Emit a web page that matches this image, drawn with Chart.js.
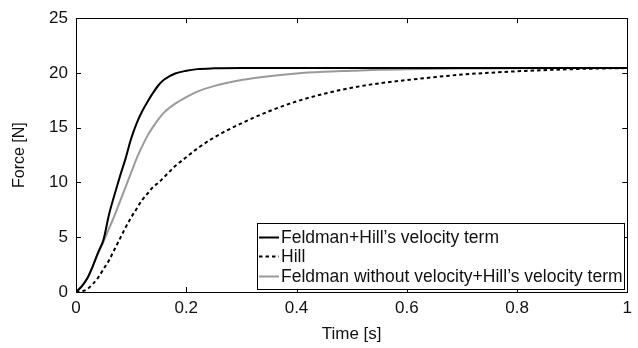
<!DOCTYPE html>
<html>
<head>
<meta charset="utf-8">
<script src="https://cdn.jsdelivr.net/npm/chart.js@4/dist/chart.umd.min.js"></script>
<style>
  html, body { margin: 0; padding: 0; background: #fff; }
  #wrap { width: 638px; height: 348px; position: relative; }
</style>
</head>
<body>
<div id="wrap"><canvas id="chart"></canvas></div>
<script>
// time samples [s]
const time = [0, 0.01, 0.02, 0.03, 0.04, 0.05, 0.06, 0.07, 0.08, 0.09, 0.1, 0.11, 0.12, 0.13, 0.14, 0.15,
  0.16, 0.18, 0.2, 0.22, 0.25, 0.3, 0.35, 0.4, 0.45, 0.5, 0.55, 0.6, 0.7, 0.8, 0.9, 1.0];

// Force [N]
const feldmanHill = [0, 0.5, 1.2, 2.3, 3.6, 4.8, 7.1, 8.9, 10.6, 12.2, 14.0, 15.4, 16.5, 17.4, 18.2, 18.9,
  19.4, 19.95, 20.2, 20.35, 20.42, 20.45, 20.45, 20.45, 20.45, 20.45, 20.45, 20.45, 20.45, 20.45, 20.45, 20.45];
const hill = [0, 0.05, 0.25, 0.7, 1.3, 2.1, 2.9, 3.9, 4.9, 5.9, 6.8, 7.6, 8.4, 9.0, 9.6, 10.0,
  10.5, 11.5, 12.3, 13.1, 14.1, 15.4, 16.5, 17.4, 18.1, 18.65, 19.05, 19.35, 19.85, 20.15, 20.35, 20.45];
const feldmanNoVel = [0, 0.5, 1.2, 2.3, 3.5, 4.6, 5.8, 7.0, 8.3, 9.6, 10.9, 12.2, 13.3, 14.3, 15.1, 15.8,
  16.4, 17.2, 17.8, 18.3, 18.8, 19.35, 19.7, 19.95, 20.1, 20.2, 20.3, 20.35, 20.4, 20.42, 20.45, 20.45];

const seriesLabels = ['Feldman+Hill\u2019s velocity term', 'Hill', 'Feldman without velocity+Hill\u2019s velocity term'];
const xTicks = [0, 0.2, 0.4, 0.6, 0.8, 1];
const yTicks = [0, 5, 10, 15, 20, 25];

const FONT = '"Liberation Sans", Arial, Helvetica, sans-serif';

function pts(ys) {
  return time.map((t, i) => ({ x: t, y: ys[i] }));
}

// frame with inner ticks on all four sides (MATLAB style)
const framePlugin = {
  id: 'frame',
  afterDatasetsDraw(chart) {
    const { ctx, chartArea: a, scales } = chart;
    const len = 5;
    ctx.save();
    ctx.strokeStyle = '#000';
    ctx.lineWidth = 1;
    ctx.beginPath();
    xTicks.forEach(v => {
      const x = Math.round(scales.x.getPixelForValue(v)) + 0.5;
      ctx.moveTo(x, a.bottom); ctx.lineTo(x, a.bottom - len);
      ctx.moveTo(x, a.top); ctx.lineTo(x, a.top + len);
    });
    yTicks.forEach(v => {
      const y = Math.round(scales.y.getPixelForValue(v)) + 0.5;
      ctx.moveTo(a.left, y); ctx.lineTo(a.left + len, y);
      ctx.moveTo(a.right, y); ctx.lineTo(a.right - len, y);
    });
    ctx.stroke();
    ctx.strokeRect(Math.round(a.left) + 0.5, Math.round(a.top) + 0.5,
      Math.round(a.right - a.left), Math.round(a.bottom - a.top));
    ctx.restore();
  }
};

// boxed legend inside the plot, bottom right
const boxLegend = {
  id: 'boxLegend',
  afterDraw(chart) {
    const { ctx, chartArea: a } = chart;
    const ds = chart.data.datasets;
    ctx.save();
    ctx.font = '17.5px ' + FONT;
    const textW = Math.max(...ds.map(d => ctx.measureText(d.label).width));
    const lineW = 20, gap = 2, padL = 2, padR = 1, rowH = 19.5, padV = 4;
    const w = Math.round(padL + lineW + gap + textW + padR);
    const h = Math.round(padV * 2 + rowH * ds.length - 1);
    const right = a.right - 3, bottom = a.bottom - 3;
    const left = Math.round(right - w), top = Math.round(bottom - h);
    ctx.fillStyle = '#fff';
    ctx.fillRect(left, top, w, h);
    ctx.strokeStyle = '#000';
    ctx.lineWidth = 1;
    ctx.strokeRect(left + 0.5, top + 0.5, w, h);
    ds.forEach((d, i) => {
      const cy = Math.round(top + padV + rowH * i + rowH / 2) + 0.5;
      ctx.beginPath();
      ctx.setLineDash(d.borderDash || []);
      ctx.strokeStyle = d.borderColor;
      ctx.lineWidth = d.borderWidth;
      ctx.moveTo(left + padL, cy);
      ctx.lineTo(left + padL + lineW, cy);
      ctx.stroke();
      ctx.setLineDash([]);
      ctx.fillStyle = '#111';
      ctx.textBaseline = 'middle';
      ctx.fillText(d.label, left + padL + lineW + gap, cy + 1);
    });
    ctx.restore();
  }
};

new Chart(document.getElementById('chart'), {
  type: 'line',
  data: {
    datasets: [
      { label: seriesLabels[0], data: pts(feldmanHill), borderColor: '#000', borderWidth: 2 },
      { label: seriesLabels[1], data: pts(hill), borderColor: '#000', borderWidth: 2, borderDash: [3.5, 3] },
      { label: seriesLabels[2], data: pts(feldmanNoVel), borderColor: '#9a9a9a', borderWidth: 2 }
    ]
  },
  options: {
    responsive: true,
    maintainAspectRatio: false,
    animation: false,
    layout: { padding: { left: 0, top: 16, right: 9, bottom: 0 } },
    elements: {
      point: { radius: 0 },
      line: { cubicInterpolationMode: 'monotone', fill: false }
    },
    plugins: {
      legend: { display: false },
      tooltip: { enabled: false }
    },
    scales: {
      x: {
        type: 'linear',
        min: 0, max: 1,
        afterBuildTicks: s => { s.ticks = xTicks.map(v => ({ value: v })); },
        afterFit: s => { s.height = 56; },
        grid: { display: false, drawTicks: false },
        border: { display: false },
        ticks: {
          color: '#111', font: { family: FONT, size: 17 }, padding: 6, maxRotation: 0,
          callback: v => String(parseFloat(v.toFixed(2)))
        },
        title: { display: true, text: 'Time [s]', color: '#111', font: { family: FONT, size: 17 }, padding: { top: 0, bottom: 3 } }
      },
      y: {
        min: 0, max: 25,
        afterBuildTicks: s => { s.ticks = yTicks.map(v => ({ value: v })); },
        afterFit: s => { s.width = 76; },
        grid: { display: false, drawTicks: false },
        border: { display: false },
        ticks: { color: '#111', font: { family: FONT, size: 17 }, padding: 8 },
        title: { display: true, text: 'Force [N]', color: '#111', font: { family: FONT, size: 16 }, padding: { top: 10, bottom: 0 } }
      }
    }
  },
  plugins: [framePlugin, boxLegend]
});
</script>
</body>
</html>
